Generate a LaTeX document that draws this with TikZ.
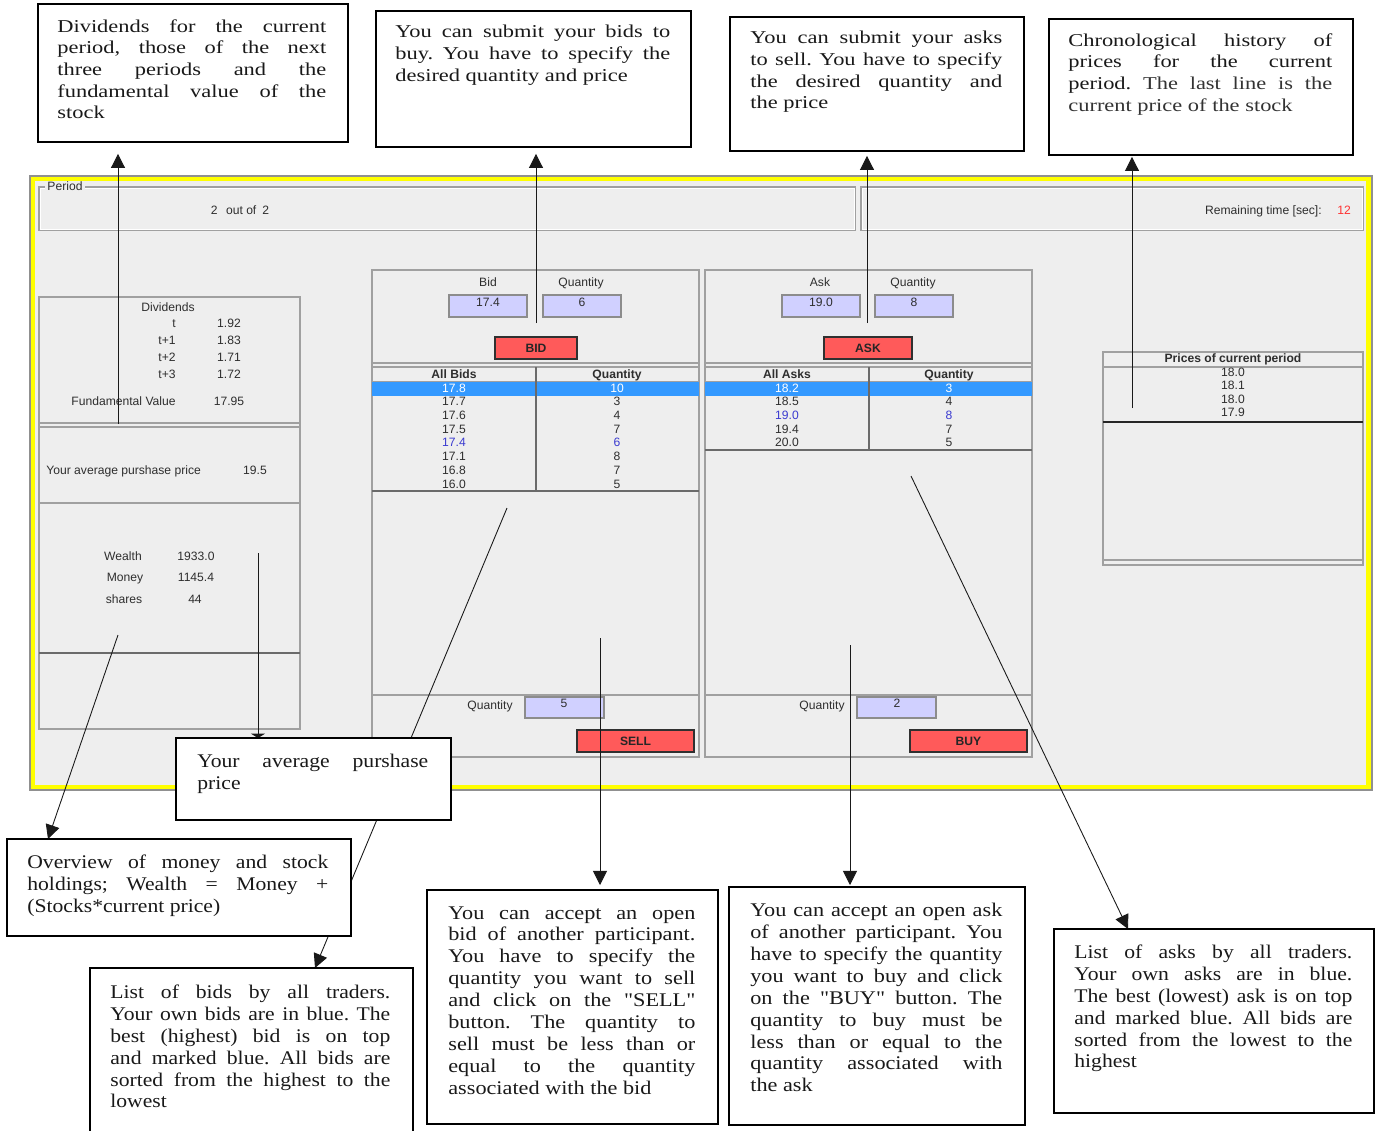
\documentclass[tikz,border=0pt]{standalone}
\usepackage{fontspec}
\setmainfont{Liberation Serif}
\newfontfamily\guifont{Liberation Sans}
\newfontfamily\fontTop[FakeStretch=1.24]{Liberation Serif}
\newfontfamily\fontMid[FakeStretch=1.15]{Liberation Serif}
\newfontfamily\fontLow[FakeStretch=1.12]{Liberation Serif}
\usetikzlibrary{arrows.meta,calc}
\definecolor{bgc}{HTML}{EEEEEE}
\definecolor{pnl}{HTML}{A0A0A0}
\definecolor{pnldark}{HTML}{6A6A6A}
\definecolor{guitext}{HTML}{2E2E2E}
\definecolor{selblue}{HTML}{3399FF}
\definecolor{ownblue}{HTML}{3A3AD0}
\definecolor{infill}{HTML}{D0D0FF}
\definecolor{inbord}{HTML}{8C8C8C}
\definecolor{btnfill}{HTML}{FF5A5A}
\definecolor{btnbord}{HTML}{303030}
\definecolor{timered}{HTML}{FF3333}
\definecolor{yframe}{HTML}{FFFF00}
\definecolor{framegray}{HTML}{909090}
\hyphenpenalty=10000 \exhyphenpenalty=10000 \tolerance=9999 \hbadness=10000
\frenchspacing
\begin{document}
\begin{tikzpicture}[x=0.02cm, y=-0.02cm,
  gui/.style={font=\guifont\fontsize{6.9}{8}\selectfont, text=guitext, inner sep=0pt, text height=5pt, text depth=1.4pt},
  guib/.style={gui, font=\guifont\bfseries\fontsize{6.9}{8}\selectfont},
  panel/.style={draw=pnl, fill=bgc, line width=0.6pt},
  sepline/.style={draw=pnl, line width=0.6pt},
  darkline/.style={draw=pnldark, line width=0.6pt},
  inbox/.style={draw=inbord, fill=infill, line width=0.6pt},
  btn/.style={draw=btnbord, fill=btnfill, line width=0.8pt, inner sep=0pt, font=\guifont\bfseries\fontsize{6.9}{8}\selectfont, text=black!85, text height=5pt, text depth=0pt},
  cbox/.style={draw=black, fill=white, line width=1.1pt, anchor=north west, inner sep=0pt},
  ctext/.style={anchor=north west, inner sep=0pt, align=justify, text=black!90},
  topfont/.style={font=\fontTop\fontsize{10.3}{12.33}\selectfont},
  midfont/.style={font=\fontMid\fontsize{11}{12.45}\selectfont},
  lowfont/.style={font=\fontLow\fontsize{11}{12.4}\selectfont},
  arr/.style={draw=black!90, line width=0.5pt, -{Triangle[length=8pt,width=8pt]}}
]
\useasboundingbox (0,0) rectangle (1380,1130);
\fill[white] (0,0) rectangle (1380,1130);

% ===== screenshot frame =====
\fill[yframe] (30,176) rectangle (1372,790);
\draw[framegray, line width=0.6pt] (30,176) rectangle (1372,790);
\fill[bgc] (35,181) rectangle (1366,785);

% period panels
\draw[panel] (39,187) rectangle (855,230);
\draw[white, line width=0.5pt] (40,188) rectangle (854,229);
\draw[panel] (861,187) rectangle (1363,230);
\draw[white, line width=0.5pt] (862,188) rectangle (1362,229);
\node[gui, fill=bgc, inner xsep=1.2pt, anchor=west] (perlbl) at (45,187) {Period};
\node[gui] (perval) at (240,211) {2\hspace{0.7em}out of\hspace{0.5em}2};
\node[gui, anchor=east] (remlbl) at (1322,211) {Remaining time [sec]:};
\node[gui, text=timered] (remval) at (1344,211) {12};

% left info panel
\draw[panel] (39,297) rectangle (300,729);
\draw[sepline] (39,423) -- (300,423);
\draw[sepline] (39,427) -- (300,427);
\draw[sepline] (39,503) -- (300,503);
\draw[darkline] (39,653) -- (300,653);
\node[gui] (divh) at (168,308) {Dividends};
\foreach \l/\v [count=\i from 0] in {t/1.92, t+1/1.83, t+2/1.71, t+3/1.72} {
  \node[gui, anchor=east] (divl\i) at (176,{324+17*\i}) {\l};
  \node[gui] (divv\i) at (229,{324+17*\i}) {\v};
}
\node[gui, anchor=east] (fvl) at (176,402) {Fundamental Value};
\node[gui] (fvv) at (229,402) {17.95};
\node[gui, anchor=west] (avgl) at (46,471) {Your average purshase price};
\node[gui] (avgv) at (255,471) {19.5};
\node[gui] (wl) at (123,557) {Wealth};
\node[gui] (wv) at (196,557) {1933.0};
\node[gui] (ml) at (125,578) {Money};
\node[gui] (mv) at (196,578) {1145.4};
\node[gui] (sl) at (124,600) {shares};
\node[gui] (sv) at (195,600) {44};

% bid panel
\draw[panel] (372,270) rectangle (699,757);
\draw[sepline] (372,363) -- (699,363);
\draw[sepline] (372,367) -- (699,367);
\fill[selblue] (372,382) rectangle (699,396);
\draw[sepline] (372,381.5) -- (699,381.5);
\draw[darkline] (372,491) -- (699,491);
\draw[darkline] (536,367) -- (536,491);
\draw[sepline] (372,695) -- (699,695);
\node[gui] (bidh) at (488,283) {Bid};
\node[gui] (bidqh) at (581,283) {Quantity};
\filldraw[inbox] (449,295) rectangle (527,317);
\filldraw[inbox] (543,295) rectangle (621,317);
\node[gui] (bidin) at (488,303) {17.4};
\node[gui] (bidqin) at (582,303) {6};
\node[btn, minimum width={82*0.02cm}, minimum height={22*0.02cm}] (bidbtn) at (536,348) {BID};
\node[guib] (allbids) at (454,375) {All Bids};
\node[guib] (bidqcol) at (617,375) {Quantity};
\foreach \v/\q/\c [count=\i from 0] in {17.8/10/white, 17.7/3/guitext, 17.6/4/guitext, 17.5/7/guitext, 17.4/6/ownblue, 17.1/8/guitext, 16.8/7/guitext, 16.0/5/guitext} {
  \node[gui, text=\c] (bp\i) at (454,{389+13.7*\i}) {\v};
  \node[gui, text=\c] (bq\i) at (617,{389+13.7*\i}) {\q};
}
\node[gui] (sellql) at (490,706) {Quantity};
\filldraw[inbox] (525,697) rectangle (604,718);
\node[gui] (sellq) at (564,704) {5};
\node[btn, minimum width={117*0.02cm}, minimum height={22*0.02cm}] (sellbtn) at (635.5,741) {SELL};

% ask panel
\draw[panel] (705,270) rectangle (1032,757);
\draw[sepline] (705,363) -- (1032,363);
\draw[sepline] (705,367) -- (1032,367);
\fill[selblue] (705,382) rectangle (1032,396);
\draw[sepline] (705,381.5) -- (1032,381.5);
\draw[darkline] (705,450) -- (1032,450);
\draw[darkline] (869,367) -- (869,450);
\draw[sepline] (705,695) -- (1032,695);
\node[gui] (askh) at (820,283) {Ask};
\node[gui] (askqh) at (913,283) {Quantity};
\filldraw[inbox] (782,295) rectangle (860,317);
\filldraw[inbox] (875,295) rectangle (953,317);
\node[gui] (askin) at (821,303) {19.0};
\node[gui] (askqin) at (914,303) {8};
\node[btn, minimum width={88*0.02cm}, minimum height={22*0.02cm}] (askbtn) at (868,348) {ASK};
\node[guib] (allasks) at (787,375) {All Asks};
\node[guib] (askqcol) at (949,375) {Quantity};
\foreach \v/\q/\c [count=\i from 0] in {18.2/3/white, 18.5/4/guitext, 19.0/8/ownblue, 19.4/7/guitext, 20.0/5/guitext} {
  \node[gui, text=\c] (ap\i) at (787,{389+13.7*\i}) {\v};
  \node[gui, text=\c] (aq\i) at (949,{389+13.7*\i}) {\q};
}
\node[gui] (buyql) at (822,706) {Quantity};
\filldraw[inbox] (857,697) rectangle (936,718);
\node[gui] (buyq) at (897,704) {2};
\node[btn, minimum width={117*0.02cm}, minimum height={22*0.02cm}] (buybtn) at (968.5,741) {BUY};

% prices panel
\draw[panel] (1103,352) rectangle (1363,565);
\draw[sepline] (1103,367) -- (1363,367);
\draw[black!85, line width=0.6pt] (1103,422) -- (1363,422);
\draw[sepline] (1103,560) -- (1363,560);
\node[guib] (priceh) at (1233,359) {Prices of current period};
\foreach \v [count=\i from 0] in {18.0, 18.1, 18.0, 17.9} {
  \node[gui] (pr\i) at (1233,{373+13.6*\i}) {\v};
}

% ===== callout boxes =====
\node[cbox, minimum width={310*0.02cm}, minimum height={138*0.02cm}] (c1) at (37,3) {};
\node[cbox, minimum width={315*0.02cm}, minimum height={136*0.02cm}] (c2) at (375,10) {};
\node[cbox, minimum width={294*0.02cm}, minimum height={134*0.02cm}] (c3) at (729,16) {};
\node[cbox, minimum width={304*0.02cm}, minimum height={136*0.02cm}] (c4) at (1048,18) {};

% ===== connectors =====
\coordinate (a1s) at (118,424);
\coordinate (a2s) at (536,323);
\coordinate (a3s) at (867,323);
\coordinate (a4s) at (1132,408);
\coordinate (a5s) at (258,553);
\coordinate (a6s) at (118,635);
\coordinate (a7s) at (507,508);
\coordinate (a8s) at (600,638);
\coordinate (a9s) at (850,645);
\coordinate (a10s) at (911,476);

\node[cbox, minimum width={273*0.02cm}, minimum height={80*0.02cm}, draw=none, fill=none] (c5) at (176,738) {};
\node[cbox, minimum width={342*0.02cm}, minimum height={95*0.02cm}, draw=none, fill=none] (c6) at (7,839) {};
\node[cbox, minimum width={321*0.02cm}, minimum height={175*0.02cm}, draw=none, fill=none] (c7) at (90,968) {};
\node[cbox, minimum width={289*0.02cm}, minimum height={232*0.02cm}, draw=none, fill=none] (c8) at (427,890) {};
\node[cbox, minimum width={294*0.02cm}, minimum height={236*0.02cm}, draw=none, fill=none] (c9) at (729,887) {};
\node[cbox, minimum width={318*0.02cm}, minimum height={182*0.02cm}, draw=none, fill=none] (c10) at (1054,929) {};

\draw[arr, shorten >=11*0.02cm] (a1s) -- (a1s |- c1.south);
\draw[arr, shorten >=6*0.02cm] (a2s) -- (a2s |- c2.south);
\draw[arr, shorten >=4*0.02cm] (a3s) -- (a3s |- c3.south);
\draw[arr, shorten >=1*0.02cm] (a4s) -- (a4s |- c4.south);
\draw[draw=black!90, line width=0.5pt, -{Triangle[length=2.5pt,width=8pt]}] (a5s) -- (a5s |- c5.north);
\draw[arr] (a6s) -- ($(c6.north west)+(41,0)$);
\draw[arr] (a7s) -- ($(c7.north west)+(225,0)$);
\draw[arr, shorten >=5*0.02cm] (a8s) -- (a8s |- c8.north);
\draw[arr, shorten >=2*0.02cm] (a9s) -- (a9s |- c9.north);
\draw[arr] (a10s) -- ($(c10.north west)+(74,0)$);

% lower callout frames drawn over connectors
\draw[draw=black, fill=white, line width=1.1pt] (c5.north west) rectangle (c5.south east);
\draw[draw=black, fill=white, line width=1.1pt] (c6.north west) rectangle (c6.south east);
\draw[draw=black, fill=white, line width=1.1pt] (c7.north west) rectangle (c7.south east);
\draw[draw=black, fill=white, line width=1.1pt] (c8.north west) rectangle (c8.south east);
\draw[draw=black, fill=white, line width=1.1pt] (c9.north west) rectangle (c9.south east);
\draw[draw=black, fill=white, line width=1.1pt] (c10.north west) rectangle (c10.south east);

% ===== callout texts =====
\node[ctext, topfont, text width={269*0.02cm}] (t1) at ($(c1.north west)+(20,16)$)
 {Dividends for the current\linebreak period, those of the next\linebreak three periods and the\linebreak fundamental value of the\linebreak stock};
\node[ctext, topfont, text width={275*0.02cm}] (t2) at ($(c2.north west)+(20,15)$)
 {You can submit your bids to\linebreak buy. You have to specify the\linebreak desired quantity and price};
\node[ctext, topfont, text width={252*0.02cm}] (t3) at ($(c3.north west)+(21,15)$)
 {You can submit your asks\linebreak to sell. You have to specify\linebreak the desired quantity and\linebreak the price};
\node[ctext, topfont, text width={264*0.02cm}] (t4) at ($(c4.north west)+(20,15)$)
 {Chronological history of\linebreak prices for the current\linebreak period. {\color{black!80}The last line is the\linebreak current price of the stock}};
\node[ctext, lowfont, text width={231*0.02cm}] (t5) at ($(c5.north west)+(21,16)$)
 {Your average purshase\linebreak price};
\node[ctext, lowfont, text width={301*0.02cm}] (t6) at ($(c6.north west)+(20,16)$)
 {Overview of money and stock\linebreak holdings; Wealth = Money +\linebreak (Stocks*current price)};
\node[ctext, lowfont, text width={280*0.02cm}] (t7) at ($(c7.north west)+(20,17)$)
 {List of bids by all traders.\linebreak Your own bids are in blue. The\linebreak best (highest) bid is on top\linebreak and marked blue. All bids are\linebreak sorted from the highest to the\linebreak lowest};
\node[ctext, midfont, text width={247*0.02cm}] (t8) at ($(c8.north west)+(21,16)$)
 {You can accept an open\linebreak bid of another participant.\linebreak You have to specify the\linebreak quantity you want to sell\linebreak and click on the "SELL"\linebreak button. The quantity to\linebreak sell must be less than or\linebreak equal to the quantity\linebreak associated with the bid};
\node[ctext, midfont, text width={252*0.02cm}] (t9) at ($(c9.north west)+(21,16)$)
 {You can accept an open ask\linebreak of another participant. You\linebreak have to specify the quantity\linebreak you want to buy and click\linebreak on the "BUY" button. The\linebreak quantity to buy must be\linebreak less than or equal to the\linebreak quantity associated with\linebreak the ask};
\node[ctext, lowfont, text width={278*0.02cm}] (t10) at ($(c10.north west)+(20,16)$)
 {List of asks by all traders.\linebreak Your own asks are in blue.\linebreak The best (lowest) ask is on top\linebreak and marked blue. All bids are\linebreak sorted from the lowest to the\linebreak highest};
\end{tikzpicture}
\end{document}
